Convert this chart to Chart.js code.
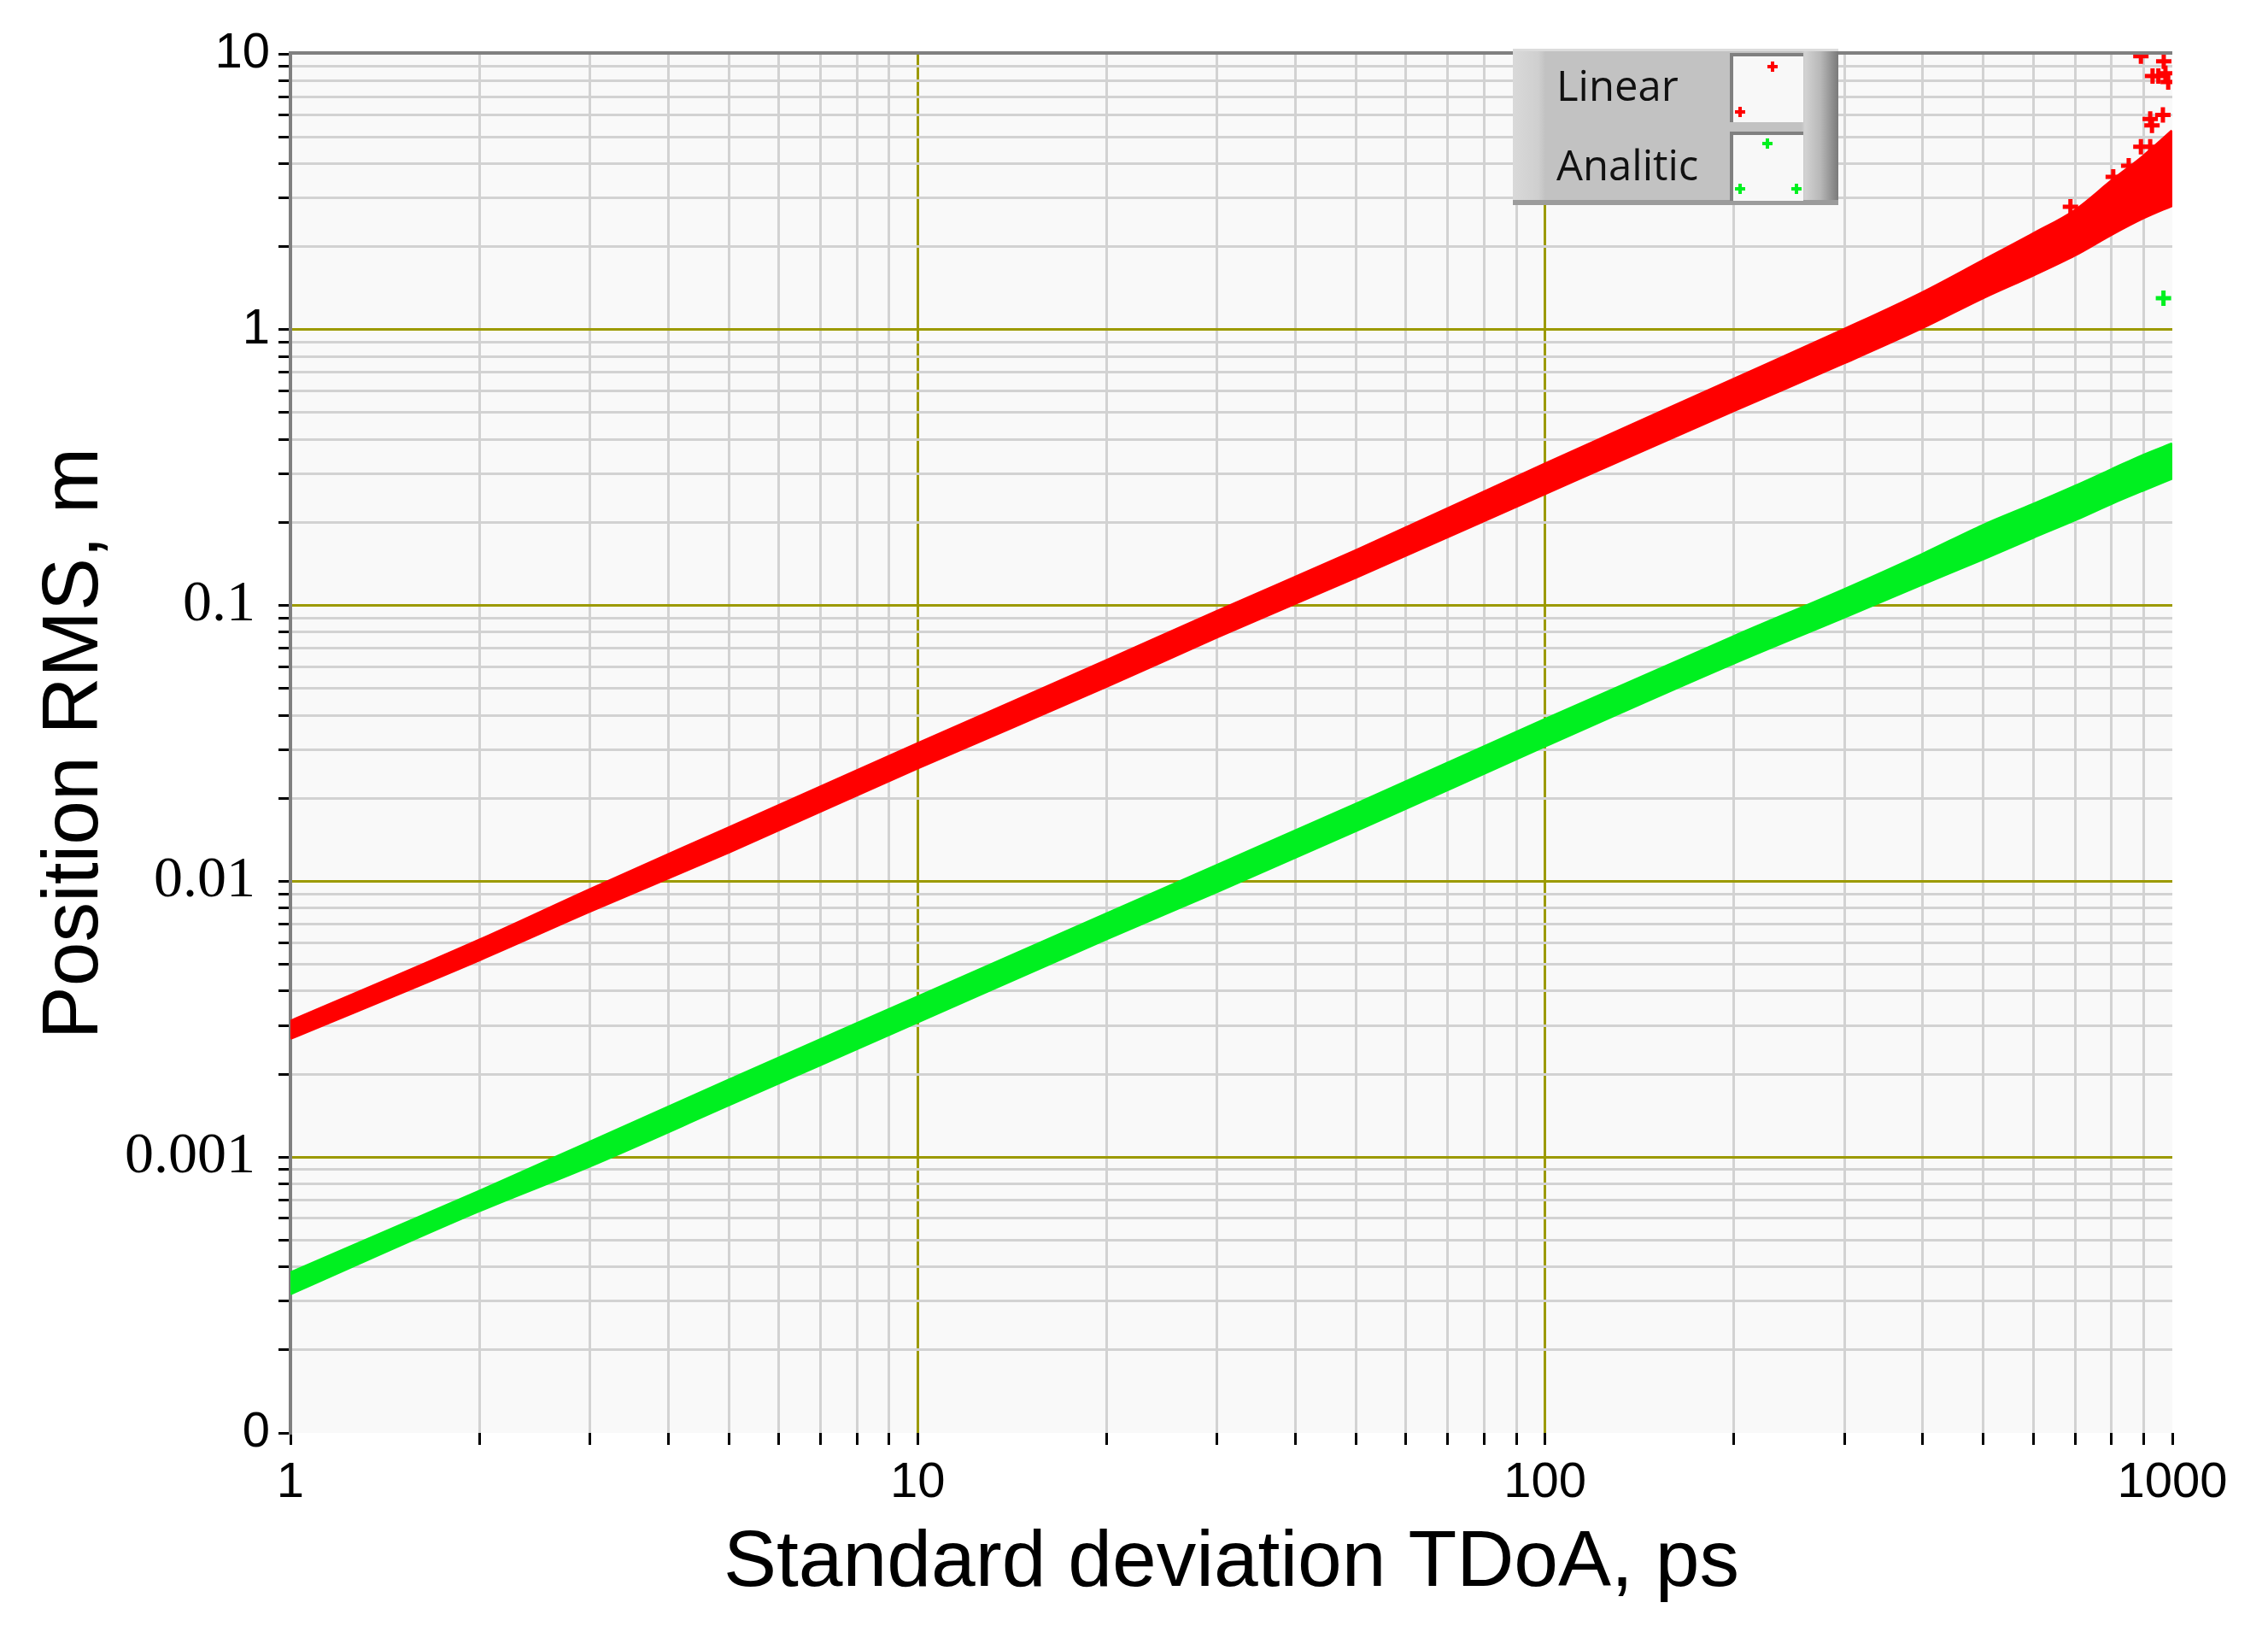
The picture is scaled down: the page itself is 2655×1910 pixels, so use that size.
<!DOCTYPE html>
<html>
<head>
<meta charset="utf-8">
<title>Position RMS vs standard deviation TDoA</title>
<script src="https://cdn.jsdelivr.net/npm/chart.js@4.4.1/dist/chart.umd.min.js"></script>
<style>
  html, body { margin: 0; padding: 0; background: #fff; }
  #wrap { position: relative; width: 2655px; height: 1910px; }
  #legend {
    position: absolute; left: 1771px; top: 57px; width: 381px; height: 183px;
    background: linear-gradient(to right, #d9d9d9 0px, #cfcfcf 30px, #c2c2c2 38px, #c2c2c2 338px, #d2d2d2 342px, #b8b8b8 360px, #7a7a7a 381px);
    box-shadow: inset 0 3px 0 #dcdcdc, inset 0 -6px 0 #9c9c9c;
    font-family: "Open Sans", sans-serif; font-size: 49px; color: #111;
  }
  #legend .txt { position: absolute; left: 51px; line-height: 49px; white-space: nowrap; }
  #legend .box {
    position: absolute; left: 254px; width: 82px; height: 77px; background: #f8f8f8;
    border-top: 4px solid #808080; border-left: 4px solid #808080;
  }
  #legend .mk {
    position: absolute; width: 12px; height: 12px;
    background: linear-gradient(var(--c), var(--c)) center / 4px 100% no-repeat,
                linear-gradient(var(--c), var(--c)) center / 100% 4px no-repeat;
  }
</style>
</head>
<body>
<div id="wrap">
  <canvas id="chart" width="2655" height="1910"></canvas>
  <div id="legend">
    <div class="txt" style="top:18px">Linear</div>
    <div class="txt" style="top:111px">Analitic</div>
    <div class="box" style="top:5px">
      <div class="mk" style="--c:#ff0000; left:40px; top:6px"></div>
      <div class="mk" style="--c:#ff0000; left:2px; top:59px"></div>
    </div>
    <div class="box" style="top:97px">
      <div class="mk" style="--c:#00f020; left:34px; top:4px"></div>
      <div class="mk" style="--c:#00f020; left:2px; top:57px"></div>
      <div class="mk" style="--c:#00f020; left:68px; top:57px"></div>
    </div>
  </div>
</div>
<script>
// -----------------------------
// Data
// -----------------------------
const xDecades = [1, 10, 100, 1000];
const xTickLabels = ['1', '10', '100', '1000'];
const yDecades = [0.0001, 0.001, 0.01, 0.1, 1, 10];
const yTickLabels = ['0', '0.001', '0.01', '0.1', '1', '10'];
const minorSteps = [2, 3, 4, 5, 6, 7, 8, 9];

// edges of the two point clouds
const bandX = [1, 2, 3, 5, 10, 20, 30, 50, 100, 200, 300, 400, 500, 600, 700, 800, 900, 1000];
const linearUpper = [0.0031, 0.0061, 0.0093, 0.0156, 0.0315, 0.063, 0.095, 0.158, 0.325, 0.66, 1.0, 1.36, 1.78, 2.22, 2.7, 3.45, 4.25, 5.25];
const linearLower = [0.0027, 0.0052, 0.0078, 0.0128, 0.0258, 0.051, 0.077, 0.127, 0.255, 0.51, 0.76, 1.02, 1.31, 1.58, 1.87, 2.22, 2.55, 2.83];
const analyticUpper = [0.00038, 0.00075, 0.00113, 0.0019, 0.0038, 0.0076, 0.0114, 0.019, 0.0385, 0.077, 0.114, 0.153, 0.195, 0.232, 0.27, 0.31, 0.35, 0.385];
const analyticLower = [0.00032, 0.00064, 0.00093, 0.00155, 0.0031, 0.0062, 0.0092, 0.0153, 0.031, 0.062, 0.091, 0.12, 0.148, 0.177, 0.205, 0.235, 0.263, 0.29];

// stray points
const linearOutX = [891, 969, 930, 950, 975, 985, 966, 922, 928, 891, 922, 852, 805, 688];
const linearOutY = [9.8, 9.4, 8.3, 8.3, 8.5, 7.9, 6.0, 5.8, 5.5, 4.6, 4.6, 3.93, 3.58, 2.79];
const analyticOutX = [968];
const analyticOutY = [1.30];

const RED = '#ff0000';
const GREEN = '#00f020';
const OLIVE = '#9c9a00';
const MINOR = '#d2d2d2';

function pts(xs, ys) {
  return xs.map((x, i) => ({ x: x, y: ys[i] }));
}

function logTicks(decades) {
  let out = [];
  decades.forEach((d, i) => {
    out.push({ value: d, major: true });
    if (i < decades.length - 1) {
      minorSteps.forEach(m => out.push({ value: d * m, major: false }));
    }
  });
  return out;
}

function decadeLabel(decades, labels, v) {
  const i = decades.indexOf(v);
  return i >= 0 ? labels[i] : '';
}

function gridColor(ctx, decades) {
  const t = ctx.tick;
  if (!t) return MINOR;
  if (t.value === decades[0] || t.value === decades[decades.length - 1]) return 'rgba(0,0,0,0)';
  return t.major ? OLIVE : MINOR;
}

// background of the plot and its top edge
const plotFrame = {
  id: 'plotFrame',
  beforeDraw(chart) {
    const { ctx, chartArea: a } = chart;
    ctx.save();
    ctx.fillStyle = '#f9f9f9';
    ctx.fillRect(a.left, a.top, a.right - a.left, a.bottom - a.top);
    ctx.restore();
  },
  afterDraw(chart) {
    const { ctx, chartArea: a } = chart;
    ctx.save();
    ctx.strokeStyle = '#808080';
    ctx.lineWidth = 4;
    ctx.beginPath();
    ctx.moveTo(a.left - 2, a.top - 1);
    ctx.lineTo(a.right, a.top - 1);
    ctx.stroke();
    ctx.restore();
  }
};

const bandStyle = (c) => ({
  borderColor: c, backgroundColor: c, borderWidth: 4,
  pointRadius: 0, tension: 0.3, cubicInterpolationMode: 'monotone'
});

new Chart(document.getElementById('chart'), {
  type: 'line',
  data: {
    datasets: [
      { label: 'Linear', data: pts(bandX, linearUpper), fill: '+1', ...bandStyle(RED) },
      { label: 'Linear low', data: pts(bandX, linearLower), fill: false, ...bandStyle(RED) },
      { label: 'Analitic', data: pts(bandX, analyticUpper), fill: '+1', ...bandStyle(GREEN) },
      { label: 'Analitic low', data: pts(bandX, analyticLower), fill: false, ...bandStyle(GREEN) },
      { label: 'Linear stray', data: pts(linearOutX, linearOutY), showLine: false,
        pointStyle: 'cross', pointRadius: 9, pointBorderWidth: 5, borderColor: RED, backgroundColor: RED },
      { label: 'Analitic stray', data: pts(analyticOutX, analyticOutY), showLine: false,
        pointStyle: 'cross', pointRadius: 9, pointBorderWidth: 5, borderColor: GREEN, backgroundColor: GREEN }
    ]
  },
  options: {
    responsive: false,
    animation: false,
    devicePixelRatio: 1,
    layout: { padding: { left: 0, right: 112, top: 63, bottom: 0 } },
    plugins: { legend: { display: false }, tooltip: { enabled: false } },
    scales: {
      x: {
        type: 'logarithmic', min: 1, max: 1000,
        afterBuildTicks: axis => { axis.ticks = logTicks(xDecades); },
        afterFit: axis => { axis.height = 233; },
        border: { display: false },
        grid: { color: ctx => gridColor(ctx, xDecades), lineWidth: 3, tickLength: 14, tickColor: '#000', tickWidth: 3 },
        ticks: {
          autoSkip: false, maxRotation: 0, padding: 10, color: '#000',
          font: { family: 'Liberation Sans', size: 58 },
          callback: v => decadeLabel(xDecades, xTickLabels, v)
        },
        title: {
          display: true, text: 'Standard deviation TDoA, ps', color: '#000',
          font: { family: 'Liberation Sans', size: 93 }, padding: { top: 0, bottom: 24 }
        }
      },
      y: {
        type: 'logarithmic', min: 0.0001, max: 10,
        afterBuildTicks: axis => { axis.ticks = logTicks(yDecades); },
        afterFit: axis => { axis.width = 340; },
        border: { display: true, color: '#808080', width: 4 },
        grid: { color: ctx => gridColor(ctx, yDecades), lineWidth: 3, tickLength: 14, tickColor: '#000', tickWidth: 3 },
        ticks: {
          autoSkip: false, padding: 10, color: '#000',
          font: ctx => {
            const lab = ctx.tick ? decadeLabel(yDecades, yTickLabels, ctx.tick.value) : '';
            return lab.indexOf('.') >= 0
              ? { family: 'Liberation Serif', size: 68 }
              : { family: 'Liberation Sans', size: 58 };
          },
          callback: v => {
            const lab = decadeLabel(yDecades, yTickLabels, v);
            return lab.indexOf('.') >= 0 ? lab + ' ' : lab;
          }
        },
        title: {
          display: true, text: 'Position RMS, m', color: '#000',
          font: { family: 'Liberation Sans', size: 93 }, padding: { top: 33, bottom: 0 }
        }
      }
    }
  },
  plugins: [plotFrame]
});
</script>
</body>
</html>
